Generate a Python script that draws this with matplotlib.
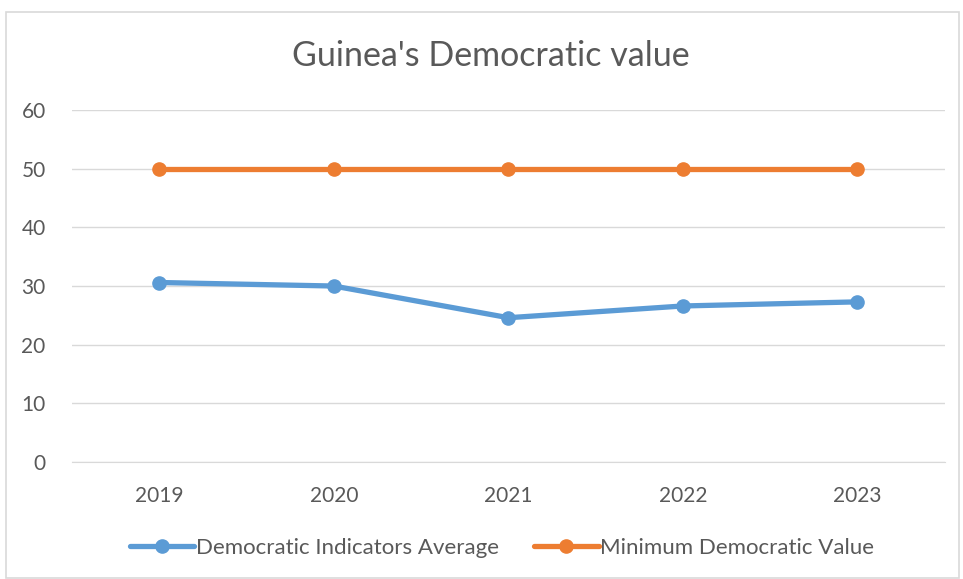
import matplotlib.pyplot as plt
from matplotlib.patches import Rectangle

years = ['2019', '2020', '2021', '2022', '2023']
avg_values = [30.6, 30.0, 24.6, 26.6, 27.3]
min_values = [50, 50, 50, 50, 50]
yticks = [0, 10, 20, 30, 40, 50, 60]

plt.rcParams['font.family'] = ['Lato', 'DejaVu Sans']

fig = plt.figure(figsize=(9.63, 5.79), dpi=100)
ax = fig.add_axes([0.0748, 0.202, 0.9062, 0.608])

x = list(range(len(years)))
ax.plot(x, avg_values, color='#5B9BD5', lw=3.8, marker='o', ms=9.5,
        label='Democratic Indicators Average', solid_capstyle='round', zorder=3)
ax.plot(x, min_values, color='#ED7D31', lw=3.8, marker='o', ms=9.5,
        label='Minimum Democratic Value', solid_capstyle='round', zorder=3)

ax.set_xlim(-0.5, 4.5)
ax.set_ylim(0, 60)
ax.set_yticks(yticks)
ax.set_xticks(x)
ax.set_xticklabels(years)
ax.grid(axis='y', color='#D9D9D9', lw=1)
ax.set_axisbelow(True)
for s in ['top', 'right', 'left']:
    ax.spines[s].set_visible(False)
ax.spines['bottom'].set_color('#D9D9D9')
ax.tick_params(axis='both', length=0, labelsize=15, colors='#595959')
ax.tick_params(axis='y', pad=19)
ax.tick_params(axis='x', pad=17)

fig.text(0.51, 0.903, "Guinea's Democratic value", ha='center', va='center',
         fontsize=24.5, color='#595959')

leg = ax.legend(loc='center', bbox_to_anchor=(0.4925, -0.243), ncol=2, frameon=False,
                fontsize=16, labelcolor='#595959', handlelength=2.9,
                handletextpad=0.05, columnspacing=1.6)

fig.patches.append(Rectangle((0.006, 0.002), 0.99, 0.978, transform=fig.transFigure,
                             fill=False, edgecolor='#D9D9D9', lw=1.2))

fig.savefig('out.png', dpi=100)
